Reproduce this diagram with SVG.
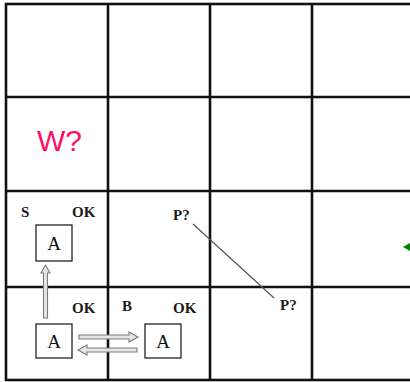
<svg xmlns="http://www.w3.org/2000/svg" width="410" height="382" viewBox="0 0 410 382">
  <style>
    .grid { fill: none; stroke: #111; stroke-width: 2.6; }
    .box { fill: #fff; stroke: #222; stroke-width: 1.3; }
    .lbl { font-family: "Liberation Serif", "Times New Roman", serif; font-size: 15px; font-weight: bold; fill: #1a1a1a; }
    .agent { font-family: "Liberation Serif", "Times New Roman", serif; font-size: 19px; fill: #111; text-anchor: middle; }
    .move { fill: #e6e6e6; stroke: #7a7a7a; stroke-width: 1.1; stroke-linejoin: miter; }
    .link { stroke: #555; stroke-width: 1.2; fill: none; }
  </style>
  <rect width="410" height="382" fill="#fff"/>

  <!-- 4x4 world grid -->
  <g id="grid">
    <rect class="grid" x="6" y="4" width="410" height="376"/>
    <line class="grid" x1="108" y1="4" x2="108" y2="380"/>
    <line class="grid" x1="210" y1="4" x2="210" y2="380"/>
    <line class="grid" x1="312" y1="4" x2="312" y2="380"/>
    <line class="grid" x1="6" y1="97" x2="416" y2="97"/>
    <line class="grid" x1="6" y1="191" x2="416" y2="191"/>
    <line class="grid" x1="6" y1="287" x2="416" y2="287"/>
  </g>

  <!-- cell annotations -->
  <g id="cell-1-3">
    <text x="37" y="151" font-family="Liberation Sans, Arial, sans-serif" font-size="30" fill="#ff0d66">W?</text>
  </g>
  <g id="cell-1-2">
    <text class="lbl" x="21" y="217">S</text>
    <text class="lbl" x="72" y="217">OK</text>
    <rect class="box" x="36" y="225" width="36" height="36"/>
    <text class="agent" x="54" y="250">A</text>
  </g>
  <g id="cell-2-2">
    <text class="lbl" x="173" y="220">P?</text>
  </g>
  <g id="cell-3-1">
    <text class="lbl" x="280" y="310">P?</text>
  </g>
  <g id="cell-1-1">
    <text class="lbl" x="72" y="313">OK</text>
    <rect class="box" x="36" y="324" width="36" height="34"/>
    <text class="agent" x="54" y="348">A</text>
  </g>
  <g id="cell-2-1">
    <text class="lbl" x="122" y="311">B</text>
    <text class="lbl" x="173" y="313">OK</text>
    <rect class="box" x="145" y="324" width="36" height="34"/>
    <text class="agent" x="163" y="348">A</text>
  </g>

  <!-- connectors -->
  <g id="connectors">
    <line class="link" x1="193" y1="224" x2="274" y2="298"/>
    <!-- agent moves -->
    <path class="move" d="M43.5,318 V273 H41 L45.5,265 L50,273 H47.5 V318 Z"/>
    <path class="move" d="M79,335 H129 V332 L138,337 L129,342 V339 H79 Z"/>
    <path class="move" d="M137,348 H87 V345 L78,350 L87,355 V352 H137 Z"/>
    <polygon points="403,247 411,242.5 411,251.5" fill="#008000"/>
  </g>
</svg>
